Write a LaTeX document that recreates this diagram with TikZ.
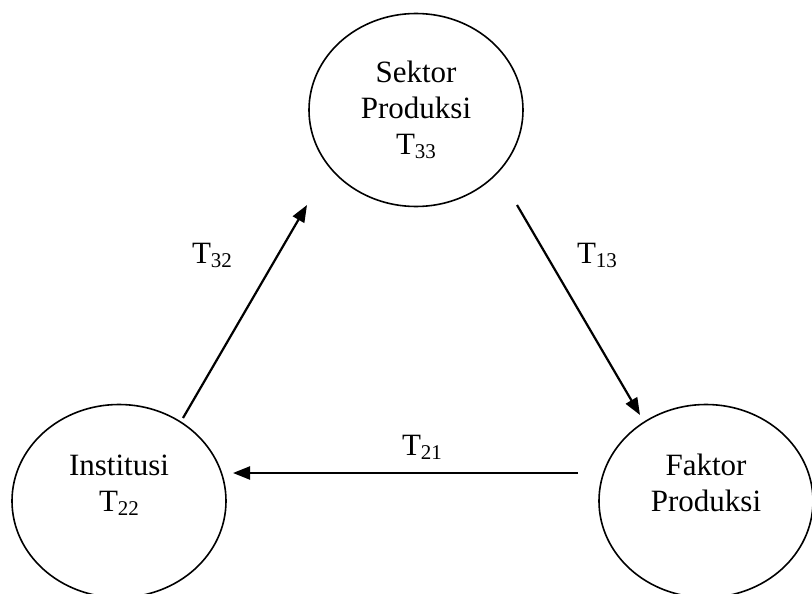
\documentclass[tikz,border=0pt]{standalone}
\usepackage{fontspec}
\setmainfont{Liberation Serif}
\usetikzlibrary{shapes.geometric,arrows.meta}
\newcommand{\Tsub}[1]{T\raisebox{-4pt}{\fontsize{21}{21}\selectfont #1}}
\tikzset{
  blob/.style={ellipse, draw, line width=1.6pt, minimum width=214pt, minimum height=193pt, inner sep=0pt,
               align=center, font=\fontsize{31}{36}\selectfont},
  flow/.style={line width=2.2pt, -{Triangle[length=17pt,width=13pt]}},
  lbl/.style={anchor=base, font=\fontsize{31}{36}\selectfont, inner sep=0pt}
}
\begin{document}
\begin{tikzpicture}[x=1pt,y=-1pt]
\useasboundingbox (0,0) rectangle (812,594);
\node[blob] (sektor) at (416,110) {Sektor\\Produksi\\\Tsub{33}};
\node[blob] (inst) at (119,501) {Institusi\\\Tsub{22}\\\mbox{}};
\node[blob] (faktor) at (706,501) {Faktor\\Produksi\\\mbox{}};
\coordinate (a1) at (183,418);
\coordinate (a2) at (307,205);
\coordinate (b1) at (517,205);
\coordinate (b2) at (640,415);
\coordinate (c1) at (578,473);
\coordinate (c2) at (233,473);
\draw[flow] (a1) -- (a2);
\draw[flow] (b1) -- (b2);
\draw[flow] (c1) -- (c2);
\node[lbl] (l32) at (212,263) {\Tsub{32}};
\node[lbl] (l13) at (597,263) {\Tsub{13}};
\node[lbl] (l21) at (422,455) {\Tsub{21}};
\end{tikzpicture}
\end{document}
